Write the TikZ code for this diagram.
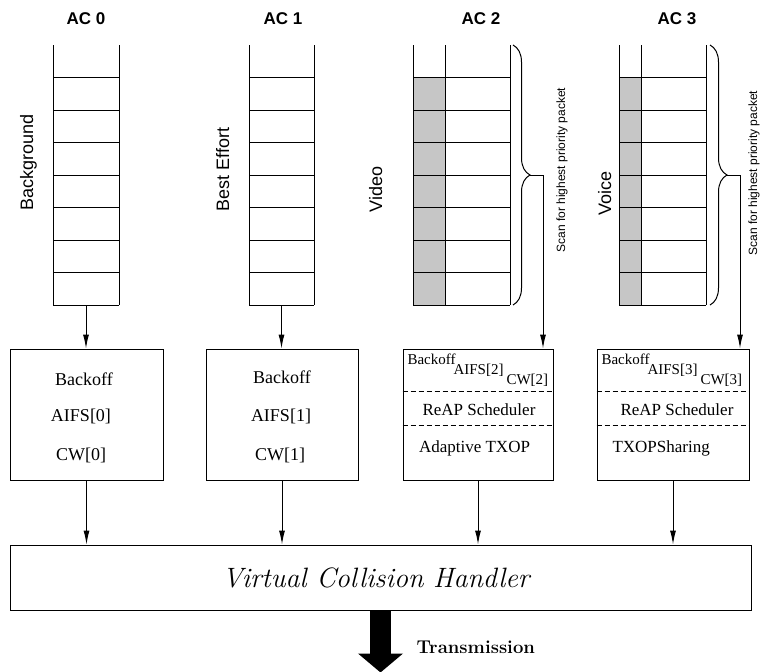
\documentclass[tikz,border=0pt]{standalone}
\usepackage{fontspec}
\newfontfamily\helv{Liberation Sans}
\newfontfamily\tms{Liberation Serif}
\usepackage{tikz}
\usetikzlibrary{arrows.meta}
\usetikzlibrary{decorations.pathreplacing}

\tikzset{
    arr/.style = {-{Latex[length=14pt,width=6pt]}},
    box/.style = {draw, inner sep=0pt},
    actitle/.style = {font=\helv\bfseries\fontsize{17}{17}\selectfont},
    aclabel/.style = {rotate=90, anchor=base west, inner sep=0pt, font=\helv\fontsize{18}{18}\selectfont},
    scanlabel/.style = {rotate=90, anchor=base west, inner sep=0pt, font=\helv\fontsize{12}{12}\selectfont},
    boxtxt/.style = {inner sep=0pt, font=\tms\fontsize{18}{18}\selectfont},
    smalltxt/.style = {inner sep=0pt, anchor=base west, font=\tms\fontsize{15}{15}\selectfont},
    midtxt/.style = {inner sep=0pt, font=\tms\fontsize{17}{17}\selectfont},
}

\begin{document}
\begin{tikzpicture}[x=1pt, y=-1pt, line width=1pt]
    \useasboundingbox (0,0) rectangle (761,672);

    % titles
    \node[actitle] (t0) at (86,18.5) {AC 0};
    \node[actitle] (t1) at (283,18.5) {AC 1};
    \node[actitle] (t2) at (481,18.5) {AC 2};
    \node[actitle] (t3) at (677,18.5) {AC 3};

    % queues
    \fill[gray!45] (413,78) rectangle (445,305);
    \fill[gray!45] (619,78) rectangle (641,305);
    \foreach \l/\r/\n in {53/119/0, 249/314/1, 413/510/2, 619/706/3} {
        \draw (\l,45) -- (\l,305) (\r,45) -- (\r,305);
        \foreach \k in {1,...,8}
            \draw (\l,{45+32.5*\k}) -- (\r,{45+32.5*\k});
        \coordinate (q\n) at ({(\l+\r)/2},305);
    }
    \draw (445,45) -- (445,305);
    \draw (641,45) -- (641,305);

    \node[aclabel] (l0) at (33,211) {Background};
    \node[aclabel] (l1) at (229,212) {Best Effort};
    \node[aclabel] (l2) at (382,213) {Video};
    \node[aclabel] (l3) at (611,216) {Voice};

    % scan braces
    \draw[decorate, decoration={brace, amplitude=17pt}] (513,45) -- (513,305);
    \draw[decorate, decoration={brace, amplitude=17pt}] (710,45) -- (710,305);
    \coordinate (s2) at (530,175);
    \coordinate (s3) at (727,175);
    \node[scanlabel] (c2) at (565,253) {Scan for highest priority packet};
    \node[scanlabel] (c3) at (757,256) {Scan for highest priority packet};

    % backoff boxes
    \node[box, minimum width=153, minimum height=131] (b0) at (86.5,414.5) {};
    \node[box, minimum width=152, minimum height=131] (b1) at (282,414.5) {};
    \node[box, minimum width=150, minimum height=131] (b2) at (478,414.5) {};
    \node[box, minimum width=152, minimum height=131] (b3) at (673,414.5) {};

    \node[boxtxt] (b0a) at (84,379) {Backoff};
    \node[boxtxt] (b0b) at (81,416) {AIFS[0]};
    \node[boxtxt] (b0c) at (81,455) {CW[0]};
    \node[boxtxt] (b1a) at (282,377) {Backoff};
    \node[boxtxt] (b1b) at (281,416) {AIFS[1]};
    \node[boxtxt] (b1c) at (280,455) {CW[1]};

    \node[smalltxt] (b2a) at (407,364) {Backoff};
    \node[smalltxt] (b2b) at (453,374) {AIFS[2]};
    \node[smalltxt] (b2c) at (506,384) {CW[2]};
    \node[smalltxt] (b3a) at (601,364) {Backoff};
    \node[smalltxt] (b3b) at (647,374) {AIFS[3]};
    \node[smalltxt] (b3c) at (700,384) {CW[3]};
    \foreach \b in {b2,b3} {
        \draw[dashed, dash pattern=on 5pt off 3pt] ([yshift=-43pt]\b.north west) -- ([yshift=-43pt]\b.north east);
        \draw[dashed, dash pattern=on 5pt off 3pt] ([yshift=-77pt]\b.north west) -- ([yshift=-77pt]\b.north east);
    }
    \node[midtxt] (b2d) at (479,410) {ReAP Scheduler};
    \node[midtxt] (b2e) at (474.5,448) {Adaptive TXOP};
    \node[midtxt] (b3d) at (677,410) {ReAP Scheduler};
    \node[midtxt, anchor=west] (b3e) at (612,448) {TXOPSharing};

    % collision handler
    \node[box, minimum width=741, minimum height=65] (vch) at (380.5,577.5) {};
    \node[inner sep=0pt] (vcht) at (376,577.5)
        {\fontsize{28}{28}\selectfont\itshape Virtual Collision Handler};

    % arrows
    \draw[arr] (q0) -- (q0 |- b0.north);
    \draw[arr] (q1) -- (q1 |- b1.north);
    \draw[arr] (s2) -| ([xshift=65pt]b2.north);
    \draw[arr] (s3) -| ([xshift=67pt]b3.north);
    \foreach \b in {b0,b1,b2,b3}
        \draw[arr] (\b.south) -- (\b.south |- vch.north);

    \draw[line width=21pt, -{Triangle[length=19pt,width=44pt]}] (vch.south) -- ++(0,62);
    \node[anchor=west, inner sep=0pt] (tx) at (416,647) {\bfseries\fontsize{18.5}{18.5}\selectfont Transmission};
\end{tikzpicture}
\end{document}
